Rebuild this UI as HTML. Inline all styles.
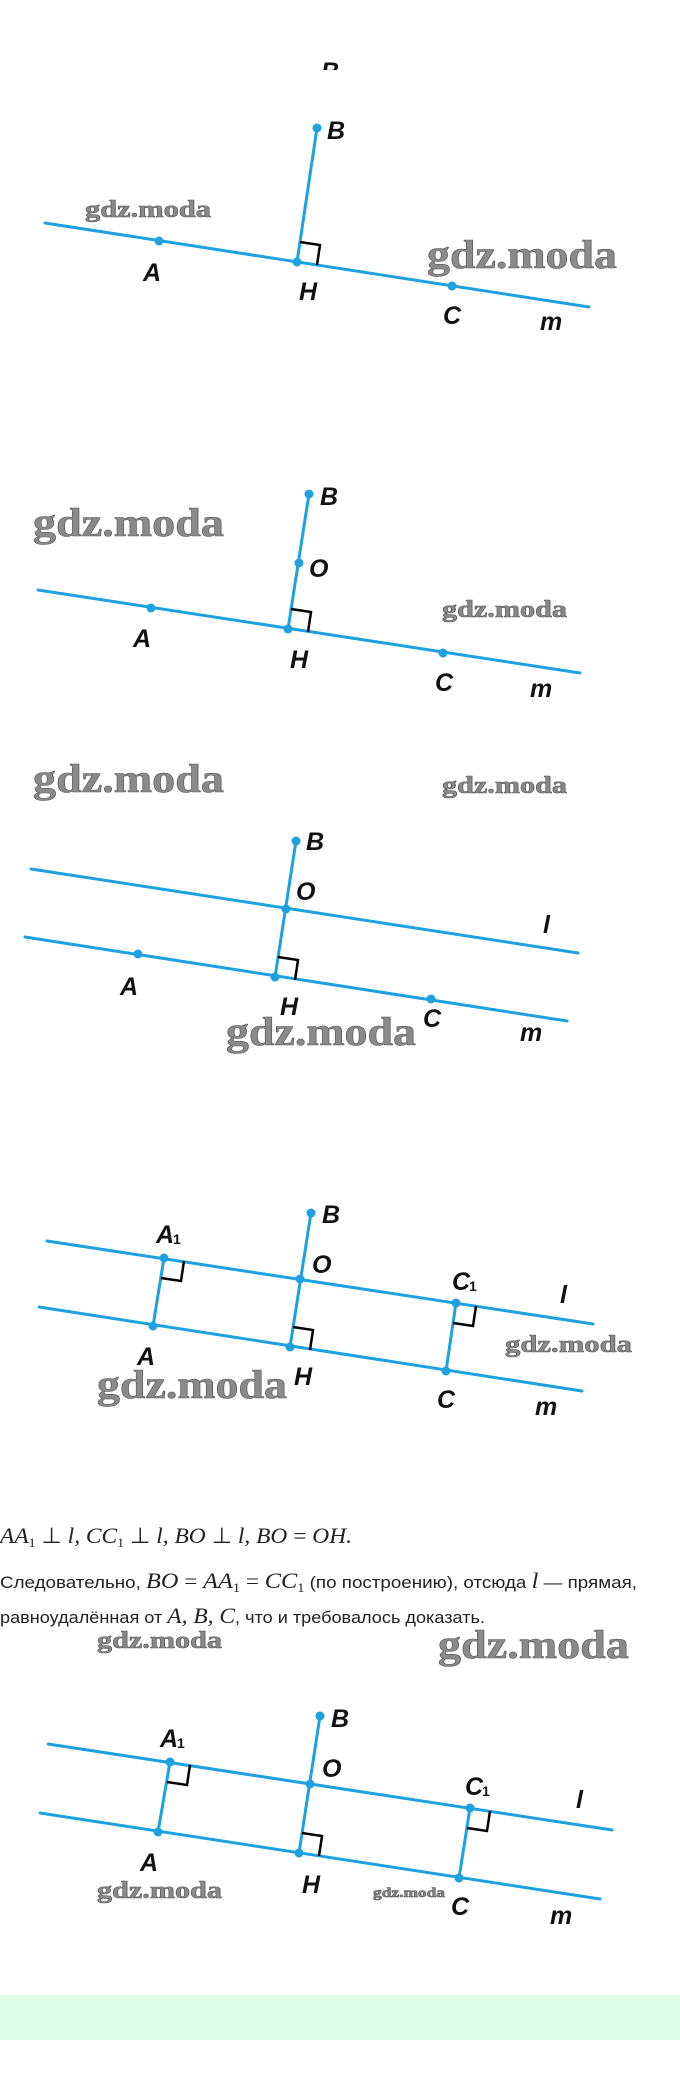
<!DOCTYPE html>
<html><head><meta charset="utf-8"><style>
html,body{margin:0;padding:0;background:#fff;}
svg{display:block;}
.ln{stroke:#1da1e0;stroke-width:3;fill:none;stroke-linecap:round;}
.dt{fill:#1da1e0;}
.ra{stroke:#000;stroke-width:2.5;fill:none;}
.lb{font-family:"Liberation Sans",sans-serif;font-style:italic;font-weight:bold;font-size:25px;fill:#111;}
.sb{font-family:"Liberation Sans",sans-serif;font-weight:bold;font-size:14px;fill:#111;}
.wm{font-family:"Liberation Serif",serif;font-weight:bold;fill:#8a8a8a;stroke:#555;stroke-width:0.6;}
.mt{font-family:"Liberation Serif",serif;font-style:italic;font-size:22px;fill:#222;}
.tx{font-family:"Liberation Sans",sans-serif;font-size:17px;fill:#222;}
</style></head><body>
<svg width="680" height="2076" viewBox="0 0 680 2076" xmlns="http://www.w3.org/2000/svg">
<defs><clipPath id="cp"><rect x="0" y="0" width="680" height="70"/></clipPath></defs>
<text class="lb" x="321" y="80" clip-path="url(#cp)">B</text>

<!-- Diagram 1 -->
<line class="ln" x1="45" y1="223" x2="589" y2="307"/>
<line class="ln" x1="317" y1="128" x2="297" y2="262"/>
<polyline class="ra" points="300,242 320,245 317,265"/>
<circle class="dt" cx="317" cy="128" r="4.5"/><circle class="dt" cx="297" cy="262" r="4.5"/>
<circle class="dt" cx="159" cy="241" r="4.5"/><circle class="dt" cx="452" cy="286" r="4.5"/>
<text class="lb" x="327" y="139">B</text><text class="lb" x="143" y="281">A</text>
<text class="lb" x="299" y="300">H</text><text class="lb" x="443" y="324">C</text>
<text class="lb" x="540" y="330">m</text>
<text class="wm" x="85" y="217" font-size="24" textLength="126" lengthAdjust="spacingAndGlyphs">gdz.moda</text>
<text class="wm" x="427" y="268" font-size="40" textLength="190" lengthAdjust="spacingAndGlyphs">gdz.moda</text>

<!-- Diagram 2 -->
<line class="ln" x1="38" y1="590" x2="580" y2="673"/>
<line class="ln" x1="309" y1="494" x2="288" y2="629"/>
<polyline class="ra" points="291,609 311,612 308,632"/>
<circle class="dt" cx="309" cy="494" r="4.5"/><circle class="dt" cx="299" cy="563" r="4.5"/>
<circle class="dt" cx="288" cy="629" r="4.5"/><circle class="dt" cx="151" cy="608" r="4.5"/>
<circle class="dt" cx="443" cy="653" r="4.5"/>
<text class="lb" x="320" y="505">B</text><text class="lb" x="309" y="577">O</text>
<text class="lb" x="133" y="647">A</text><text class="lb" x="290" y="668">H</text>
<text class="lb" x="435" y="691">C</text><text class="lb" x="530" y="697">m</text>
<text class="wm" x="33" y="536" font-size="40" textLength="191" lengthAdjust="spacingAndGlyphs">gdz.moda</text>
<text class="wm" x="442" y="617" font-size="24" textLength="125" lengthAdjust="spacingAndGlyphs">gdz.moda</text>

<!-- Diagram 3 -->
<text class="wm" x="33" y="792" font-size="40" textLength="191" lengthAdjust="spacingAndGlyphs">gdz.moda</text>
<text class="wm" x="442" y="793" font-size="24" textLength="125" lengthAdjust="spacingAndGlyphs">gdz.moda</text>
<line class="ln" x1="31" y1="869" x2="578" y2="953"/>
<line class="ln" x1="25" y1="937" x2="567" y2="1021"/>
<line class="ln" x1="296" y1="841" x2="275" y2="977"/>
<polyline class="ra" points="278,957 298,960 295,980"/>
<circle class="dt" cx="296" cy="841" r="4.5"/><circle class="dt" cx="286" cy="909" r="4.5"/>
<circle class="dt" cx="275" cy="977" r="4.5"/><circle class="dt" cx="138" cy="954" r="4.5"/>
<circle class="dt" cx="431" cy="999" r="4.5"/>
<text class="lb" x="306" y="850">B</text><text class="lb" x="296" y="900">O</text>
<text class="lb" x="543" y="933">l</text><text class="lb" x="120" y="995">A</text>
<text class="lb" x="280" y="1015">H</text><text class="lb" x="423" y="1027">C</text>
<text class="lb" x="520" y="1041">m</text>
<text class="wm" x="226" y="1045" font-size="40" textLength="190" lengthAdjust="spacingAndGlyphs">gdz.moda</text>

<!-- Diagram 4 -->
<line class="ln" x1="47" y1="1241" x2="593" y2="1324"/>
<line class="ln" x1="39" y1="1307" x2="582" y2="1391"/>
<line class="ln" x1="311" y1="1213" x2="290" y2="1347"/>
<line class="ln" x1="164" y1="1258" x2="153" y2="1326"/>
<line class="ln" x1="456" y1="1303" x2="446" y2="1371"/>
<polyline class="ra" points="161,1278 181,1281 184,1261"/>
<polyline class="ra" points="453,1323 473,1326 476,1306"/>
<polyline class="ra" points="293,1327 313,1330 310,1350"/>
<circle class="dt" cx="311" cy="1213" r="4.5"/><circle class="dt" cx="300" cy="1279" r="4.5"/>
<circle class="dt" cx="290" cy="1347" r="4.5"/><circle class="dt" cx="164" cy="1258" r="4.5"/>
<circle class="dt" cx="153" cy="1326" r="4.5"/><circle class="dt" cx="456" cy="1303" r="4.5"/>
<circle class="dt" cx="446" cy="1371" r="4.5"/>
<text class="lb" x="322" y="1223">B</text>
<text class="lb" x="156" y="1243">A</text><text class="sb" x="173" y="1244">1</text>
<text class="lb" x="312" y="1273">O</text>
<text class="lb" x="452" y="1290">C</text><text class="sb" x="469" y="1291">1</text>
<text class="lb" x="560" y="1303">l</text><text class="lb" x="137" y="1365">A</text>
<text class="lb" x="294" y="1385">H</text><text class="lb" x="437" y="1408">C</text>
<text class="lb" x="535" y="1415">m</text>
<text class="wm" x="505" y="1352" font-size="24" textLength="127" lengthAdjust="spacingAndGlyphs">gdz.moda</text>
<text class="wm" x="97" y="1398" font-size="40" textLength="190" lengthAdjust="spacingAndGlyphs">gdz.moda</text>

<!-- Text -->
<text class="mt" x="0" y="1543" textLength="352" lengthAdjust="spacingAndGlyphs">AA<tspan font-size="13" font-style="normal" dy="4">1</tspan><tspan dy="-4" font-style="normal"> ⊥ </tspan>l, CC<tspan font-size="13" font-style="normal" dy="4">1</tspan><tspan dy="-4" font-style="normal"> ⊥ </tspan>l, BO<tspan font-style="normal"> ⊥ </tspan>l, BO<tspan font-style="normal"> = </tspan>OH.</text>
<text class="tx" x="0" y="1588" textLength="637" lengthAdjust="spacingAndGlyphs">Следовательно, <tspan class="mt" font-size="21">BO</tspan><tspan font-family="Liberation Serif" font-size="21"> = </tspan><tspan class="mt" font-size="21">AA</tspan><tspan font-family="Liberation Serif" font-size="13" dy="4">1</tspan><tspan font-family="Liberation Serif" font-size="21" dy="-4"> = </tspan><tspan class="mt" font-size="21">CC</tspan><tspan font-family="Liberation Serif" font-size="13" dy="4">1</tspan><tspan dy="-4"> (по построению), отсюда </tspan><tspan class="mt" font-size="21">l</tspan> — прямая,</text>
<text class="tx" x="0" y="1623" textLength="485" lengthAdjust="spacingAndGlyphs">равноудалённая от <tspan class="mt" font-size="21">A, B, C</tspan>, что и требовалось доказать.</text>

<!-- Diagram 5 -->
<text class="wm" x="97" y="1648" font-size="24" textLength="125" lengthAdjust="spacingAndGlyphs">gdz.moda</text>
<text class="wm" x="438" y="1658" font-size="40" textLength="191" lengthAdjust="spacingAndGlyphs">gdz.moda</text>
<line class="ln" x1="48" y1="1744" x2="612" y2="1830"/>
<line class="ln" x1="40" y1="1813" x2="600" y2="1899"/>
<line class="ln" x1="320" y1="1716" x2="299" y2="1853"/>
<line class="ln" x1="170" y1="1762" x2="158" y2="1832"/>
<line class="ln" x1="470" y1="1808" x2="459" y2="1878"/>
<polyline class="ra" points="167,1782 187,1785 190,1765"/>
<polyline class="ra" points="467,1828 487,1831 490,1811"/>
<polyline class="ra" points="302,1833 322,1836 319,1856"/>
<circle class="dt" cx="320" cy="1716" r="4.5"/><circle class="dt" cx="310" cy="1784" r="4.5"/>
<circle class="dt" cx="299" cy="1853" r="4.5"/><circle class="dt" cx="170" cy="1762" r="4.5"/>
<circle class="dt" cx="158" cy="1832" r="4.5"/><circle class="dt" cx="470" cy="1808" r="4.5"/>
<circle class="dt" cx="459" cy="1878" r="4.5"/>
<text class="lb" x="331" y="1727">B</text>
<text class="lb" x="160" y="1747">A</text><text class="sb" x="177" y="1748">1</text>
<text class="lb" x="322" y="1777">O</text>
<text class="lb" x="465" y="1795">C</text><text class="sb" x="482" y="1796">1</text>
<text class="lb" x="576" y="1808">l</text><text class="lb" x="140" y="1871">A</text>
<text class="lb" x="302" y="1893">H</text><text class="lb" x="451" y="1915">C</text>
<text class="lb" x="550" y="1924">m</text>
<text class="wm" x="97" y="1898" font-size="24" textLength="125" lengthAdjust="spacingAndGlyphs">gdz.moda</text>
<text class="wm" x="373" y="1897" font-size="14" textLength="72" lengthAdjust="spacingAndGlyphs" stroke-width="0.3">gdz.moda</text>

<rect x="0" y="1995" width="680" height="45" fill="#dcfce8"/>
</svg>
</body></html>
